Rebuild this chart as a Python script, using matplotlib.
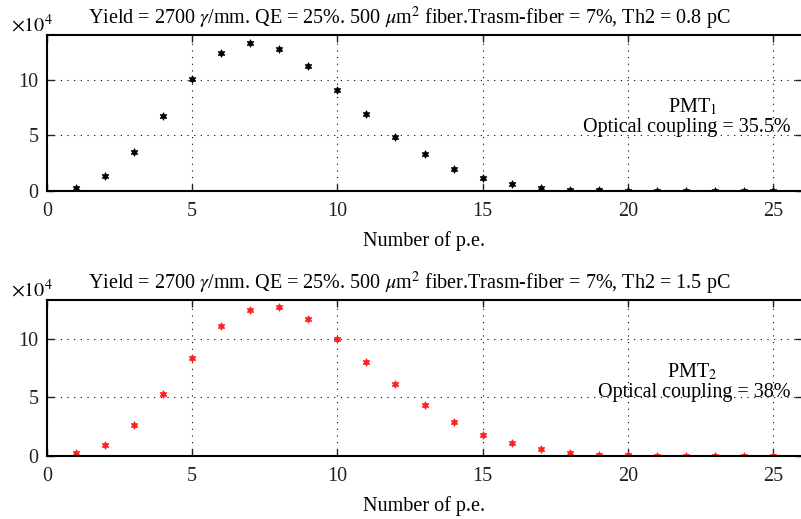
import numpy as np
import matplotlib
matplotlib.use('Agg')
import matplotlib.pyplot as plt

plt.rcParams['font.family'] = ['Liberation Serif', 'DejaVu Serif']
plt.rcParams['mathtext.fontset'] = 'stix'

# Number of photoelectrons
npe = list(range(1, 26))

# Counts (x 10^4)
counts_th08 = [0.30, 1.38, 3.54, 6.76, 10.09, 12.43, 13.36, 12.79, 11.23, 9.10,
               6.94, 4.90, 3.30, 2.00, 1.14, 0.63, 0.27, 0.12, 0.05, 0.02,
               0.01, 0.0, 0.0, 0.0, 0.0]
counts_th15 = [0.23, 0.97, 2.62, 5.27, 8.38, 11.08, 12.45, 12.70, 11.68, 9.97,
               8.06, 6.15, 4.33, 2.93, 1.82, 1.08, 0.60, 0.28, 0.12, 0.05,
               0.02, 0.01, 0.0, 0.0, 0.0]

titles = [r'Yield = 2700 $\gamma$/mm. QE = 25%. 500 $\mu$m$^2$ fiber.Trasm-fiber = 7%, Th2 = 0.8 pC',
          r'Yield = 2700 $\gamma$/mm. QE = 25%. 500 $\mu$m$^2$ fiber.Trasm-fiber = 7%, Th2 = 1.5 pC']
pmt_labels = [r'PMT$_1$', r'PMT$_2$']
coupling_labels = ['Optical coupling = 35.5%', 'Optical coupling = 38%']

fs = 14.5

fig = plt.figure(figsize=(8.01, 5.19), dpi=100)
ax1 = fig.add_axes([0.0587, 0.632, 0.9426, 0.3006])
ax2 = fig.add_axes([0.0587, 0.1214, 0.9426, 0.3006])

series = [(ax1, counts_th08, 'black', 14.05), (ax2, counts_th15, '#ff2020', 13.33)]

for i, (ax, vals, col, ytop) in enumerate(series):
    # six-pointed star marker
    ax.plot(npe, vals, linestyle='none', marker=(6, 1, 0), markersize=5.5,
            color=col, mew=0.6)
    ax.set_xlim(0, 26)
    ax.set_ylim(0, ytop)
    ax.set_xticks([0, 5, 10, 15, 20, 25])
    ax.set_yticks([0, 5, 10])
    ax.grid(True, color='black', linestyle=(0, (1, 5)), linewidth=0.8)
    ax.tick_params(direction='in', length=5, width=1, top=True, right=True,
                   labelsize=fs, colors='#222222')
    ax.tick_params(axis='x', pad=8)
    ax.tick_params(axis='y', pad=6)
    for sp in ax.spines.values():
        sp.set_linewidth(1.5)
    ax.set_xlabel('Number of p.e.', fontsize=fs, labelpad=7)
    ax.set_title(titles[i], fontsize=fs, pad=8, x=0.48)
    ax.text(-0.048, 1.02, r'$\times 10^4$', transform=ax.transAxes,
            fontsize=fs, ha='left', va='baseline')
    ax.text(0.855, 0.54, pmt_labels[i], transform=ax.transAxes,
            fontsize=fs, ha='center', va='center')
    ax.text(0.985, 0.41, coupling_labels[i], transform=ax.transAxes,
            fontsize=fs, ha='right', va='center')

fig.savefig('out.png', dpi=100)
